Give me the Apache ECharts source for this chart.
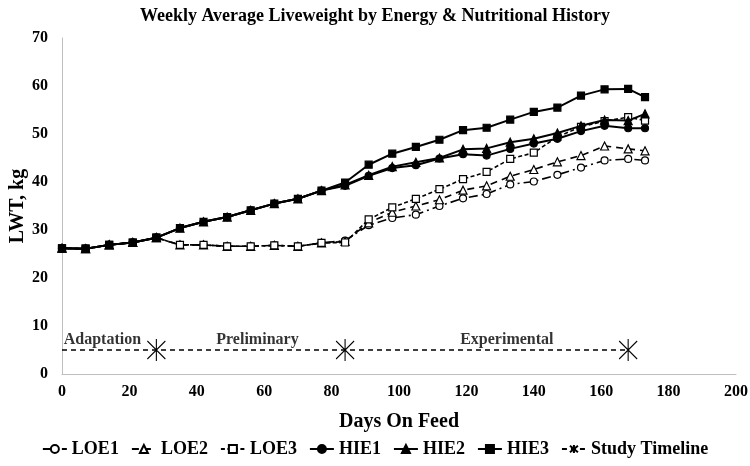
<!DOCTYPE html>
<html>
<head>
<meta charset="utf-8">
<script src="https://cdn.jsdelivr.net/npm/echarts@6/dist/echarts.min.js"></script>
<style>html,body{margin:0;padding:0;background:#fff}#c{width:750px;height:466px}</style>
</head>
<body>
<div id="c"></div>
<script>
const days = [0,7,14,21,28,35,42,49,56,63,70,77,84,91,98,105,112,119,126,133,140,147,154,161,168,173];
const LOE1 = [26.2,26.1,26.9,27.4,28.4,26.9,26.9,26.6,26.6,26.8,26.6,27.3,27.8,31.0,32.5,33.2,35.0,36.6,37.5,39.5,40.1,41.5,43.0,44.5,44.8,44.5];
const LOE2 = [26.2,26.1,26.9,27.4,28.4,26.9,26.9,26.6,26.6,26.8,26.6,27.3,27.6,31.5,33.7,35.0,36.3,38.3,39.2,41.2,42.6,44.2,45.5,47.5,46.9,46.5];
const LOE3 = [26.2,26.1,26.9,27.4,28.4,26.9,26.9,26.6,26.6,26.8,26.6,27.3,27.4,32.2,34.7,36.5,38.5,40.6,42.1,44.8,46.1,49.4,51.5,52.7,53.5,52.8];
const HIE1 = [26.2,26.1,26.9,27.4,28.4,30.4,31.7,32.7,34.1,35.5,36.5,38.2,39.2,41.3,42.9,43.5,44.9,45.8,45.5,46.9,48.0,49.0,50.6,51.7,51.2,51.2];
const HIE2 = [26.2,26.1,26.9,27.4,28.4,30.4,31.7,32.7,34.1,35.5,36.5,38.2,39.4,41.4,43.2,44.1,45.0,46.8,47.0,48.3,49.0,50.2,51.7,52.9,52.8,54.2];
const HIE3 = [26.2,26.1,26.9,27.4,28.4,30.4,31.7,32.7,34.1,35.5,36.5,38.2,39.9,43.6,45.9,47.3,48.8,50.8,51.3,53.0,54.6,55.5,58.0,59.3,59.4,57.7];
const timelineDays = [0,28,84,168];
const timelineValues = [5,5,5,5];
const phaseNames = ['Adaptation','Preliminary','Experimental'];
const phaseDays = [12,58,132];
const phaseValues = [5,5,5];
const xTicks = [0,20,40,60,80,100,120,140,160,180,200];
const yTicks = [0,10,20,30,40,50,60,70];

const font = 'Liberation Serif';
const pair = (xs, ys) => xs.map((x,i)=>[x, ys[i]]);
const star = 'path://M0,-11L0,11M-9,-9L9,9M-9,9L9,-9';

function mk(name, data, symbol, filled, dash, width) {
  return {
    name, type:'line', data: pair(days, data), symbol, symbolSize: symbol==='triangle'?8:7,
    lineStyle:{color:'#000', width: width, type: dash},
    itemStyle:{color: filled?'#000':'#fff', borderColor:'#000', borderWidth:1.2},
    z: filled?3:2
  };
}

const series = [
  mk('LOE1', LOE1, 'circle', false, [9,4,2,4], 1.6),
  mk('LOE2', LOE2, 'triangle', false, [7,5], 1.6),
  mk('LOE3', LOE3, 'rect', false, [4,2.5], 1.6),
  mk('HIE1', HIE1, 'circle', true, 'solid', 2),
  mk('HIE2', HIE2, 'triangle', true, 'solid', 2),
  mk('HIE3', HIE3, 'rect', true, 'solid', 2),
  {
    name:'Study Timeline', type:'line',
    data: pair(timelineDays, timelineValues).map((p,i)=> i===0 ? {value:p, symbol:'none'} : p),
    symbol: star, symbolSize:[18,22],
    lineStyle:{color:'#000', width:1.6, type:[5,4]},
    itemStyle:{color:'rgba(0,0,0,0)', borderColor:'#000', borderWidth:1.2}
  },
  {
    name:'phases', type:'scatter', symbolSize:0, silent:true,
    data: phaseDays.map((d,i)=>({value:[d, phaseValues[i]], name: phaseNames[i]})),
    label:{show:true, position:'top', distance:2, formatter:p=>p.name, color:'#000', fontFamily:font, fontWeight:'bold', fontSize:16}
  }
];

const chart = echarts.init(document.getElementById('c'), null, {renderer:'canvas'});
chart.setOption({
  backgroundColor:'#fff',
  animation:false,
  title:{text:'Weekly Average Liveweight by Energy & Nutritional History', left:'center', top:2,
    textStyle:{fontFamily:font, fontWeight:'bold', fontSize:18, color:'#000'}},
  legend:{
    data:['LOE1','LOE2','LOE3','HIE1','HIE2','HIE3','Study Timeline'],
    bottom:3, left:'center', itemWidth:24, itemHeight:10, itemGap:12,
    textStyle:{fontFamily:font, fontWeight:'bold', fontSize:18, color:'#000'}
  },
  grid:{left:62, right:14, top:38, bottom:92, outerBoundsMode:'none', containLabel:false},
  xAxis:{
    type:'value', min:0, max:200, interval:20,
    name:'Days On Feed', nameLocation:'middle', nameGap:38, nameMoveOverlap:false,
    nameTextStyle:{fontFamily:font, fontWeight:'bold', fontSize:20, color:'#000'},
    axisLine:{show:true, lineStyle:{color:'#bfbfbf'}},
    axisTick:{show:false}, splitLine:{show:false},
    axisLabel:{fontFamily:font, fontWeight:'bold', fontSize:16, color:'#000', margin:10,
      formatter: v => xTicks.includes(v) ? String(v) : ''}
  },
  yAxis:{
    type:'value', min:0, max:70, interval:10,
    name:'LWT, kg', nameLocation:'middle', nameGap:34, nameMoveOverlap:false,
    nameTextStyle:{fontFamily:font, fontWeight:'bold', fontSize:20, color:'#000'},
    axisLine:{show:true, lineStyle:{color:'#bfbfbf'}},
    axisTick:{show:false}, splitLine:{show:false},
    axisLabel:{fontFamily:font, fontWeight:'bold', fontSize:16, color:'#000', margin:14,
      formatter: v => yTicks.includes(v) ? String(v) : ''}
  },
  series
});
</script>
</body>
</html>
